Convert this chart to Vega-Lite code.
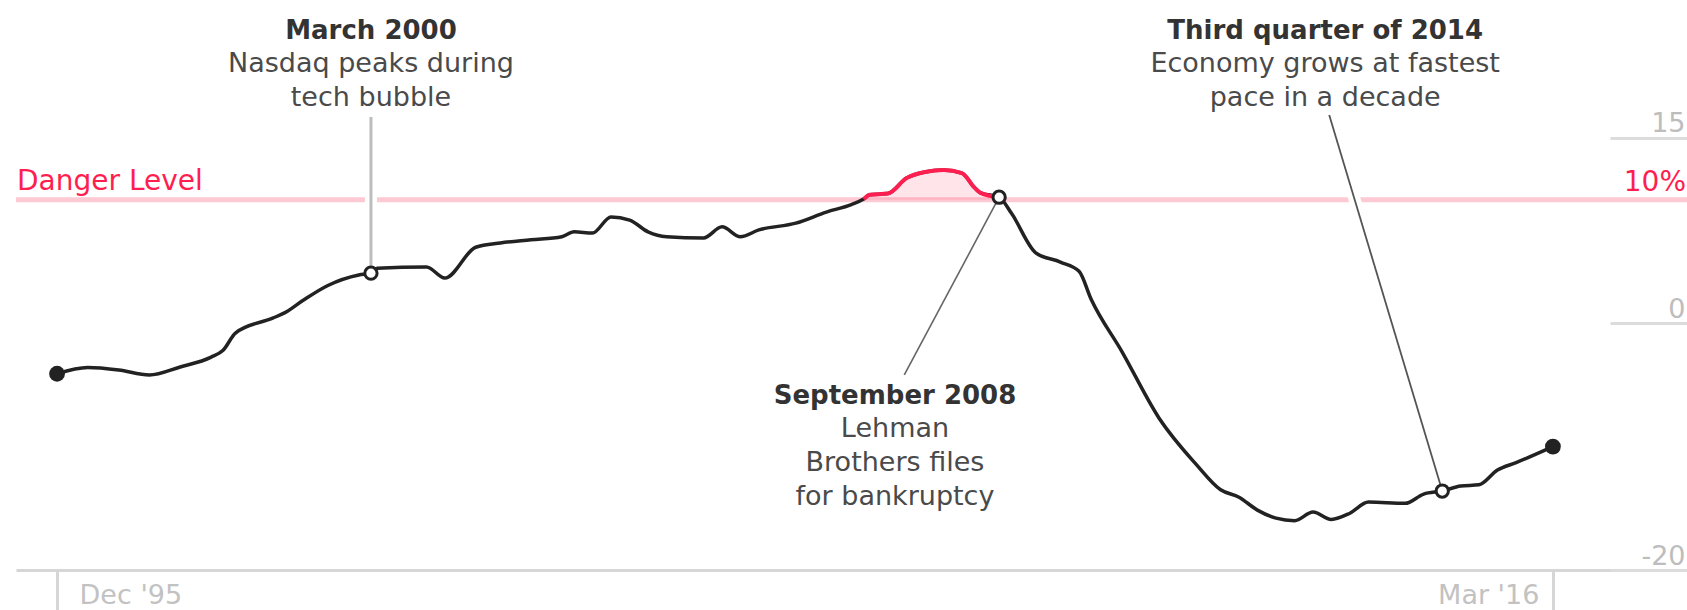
{
  "$schema": "https://vega.github.io/schema/vega-lite/v6.json",
  "width": 1671,
  "height": 570,
  "autosize": {"type": "none"},
  "padding": {"left": 16, "top": 0, "right": 0, "bottom": 40},
  "background": "white",
  "config": {"view": {"stroke": null}, "font": "DejaVu Sans"},
  "datasets": {
    "series": [
      {"date": "1995-12-01", "value": -4.1},
      {"date": "1996-05-01", "value": -3.6},
      {"date": "1996-10-01", "value": -3.8},
      {"date": "1997-03-01", "value": -4.2},
      {"date": "1997-08-01", "value": -3.55},
      {"date": "1998-01-01", "value": -2.75},
      {"date": "1998-03-01", "value": -2.2},
      {"date": "1998-05-01", "value": -0.8},
      {"date": "1998-11-01", "value": 0.4},
      {"date": "1999-01-01", "value": 0.85},
      {"date": "1999-04-01", "value": 1.85},
      {"date": "1999-08-01", "value": 3.05},
      {"date": "2000-01-01", "value": 3.9},
      {"date": "2000-03-01", "value": 4.05},
      {"date": "2000-04-01", "value": 4.45},
      {"date": "2000-12-01", "value": 4.55},
      {"date": "2001-03-01", "value": 3.65},
      {"date": "2001-08-01", "value": 6.15},
      {"date": "2001-12-01", "value": 6.5},
      {"date": "2002-05-01", "value": 6.75},
      {"date": "2002-10-01", "value": 7.0},
      {"date": "2002-12-01", "value": 7.4},
      {"date": "2003-03-01", "value": 7.3},
      {"date": "2003-06-01", "value": 8.6},
      {"date": "2003-09-01", "value": 8.35},
      {"date": "2003-12-01", "value": 7.4},
      {"date": "2004-03-01", "value": 7.0},
      {"date": "2004-09-01", "value": 6.9},
      {"date": "2004-12-01", "value": 7.8},
      {"date": "2005-03-01", "value": 7.0},
      {"date": "2005-06-01", "value": 7.55},
      {"date": "2005-12-01", "value": 8.1},
      {"date": "2006-05-01", "value": 9.0},
      {"date": "2006-09-01", "value": 9.6},
      {"date": "2006-11-01", "value": 10.05},
      {"date": "2006-12-01", "value": 10.4},
      {"date": "2007-03-01", "value": 10.5},
      {"date": "2007-06-01", "value": 11.75},
      {"date": "2007-09-01", "value": 12.25},
      {"date": "2007-12-01", "value": 12.4},
      {"date": "2008-03-01", "value": 12.15},
      {"date": "2008-05-01", "value": 11.0},
      {"date": "2008-06-01", "value": 10.55},
      {"date": "2008-09-01", "value": 10.2},
      {"date": "2008-11-01", "value": 8.9},
      {"date": "2009-03-01", "value": 5.7},
      {"date": "2009-07-01", "value": 4.95},
      {"date": "2009-10-01", "value": 4.2},
      {"date": "2009-12-01", "value": 1.9},
      {"date": "2010-05-01", "value": -2.3},
      {"date": "2010-11-01", "value": -7.7},
      {"date": "2011-05-01", "value": -11.4},
      {"date": "2011-09-01", "value": -13.5},
      {"date": "2011-12-01", "value": -14.1},
      {"date": "2012-03-01", "value": -15.15},
      {"date": "2012-06-01", "value": -15.8},
      {"date": "2012-09-01", "value": -16.0},
      {"date": "2012-12-01", "value": -15.3},
      {"date": "2013-03-01", "value": -15.9},
      {"date": "2013-06-01", "value": -15.4},
      {"date": "2013-09-01", "value": -14.5},
      {"date": "2014-03-01", "value": -14.6},
      {"date": "2014-06-01", "value": -13.85},
      {"date": "2014-09-01", "value": -13.6},
      {"date": "2014-12-01", "value": -13.2},
      {"date": "2015-03-01", "value": -13.1},
      {"date": "2015-06-01", "value": -11.9},
      {"date": "2015-09-01", "value": -11.3},
      {"date": "2016-03-01", "value": -10.0}
    ],
    "events": [
      {"date": "2000-03-01", "value": 4.05, "title": "March 2000", "note": "Nasdaq peaks during\ntech bubble"},
      {"date": "2008-09-01", "value": 10.2, "title": "September 2008", "note": "Lehman\nBrothers files\nfor bankruptcy"},
      {"date": "2014-09-01", "value": -13.6, "title": "Third quarter of 2014", "note": "Economy grows at fastest\npace in a decade"}
    ]
  },
  "data": {"name": "series"},
  "layer": [
    {
      "data": {"values": [{}]},
      "mark": {"type": "rule", "color": "#ffc9d3", "strokeWidth": 5},
      "encoding": {
        "y": {"datum": 10, "type": "quantitative", "scale": {"domain": [-20, 26.18], "nice": false, "zero": false}}
      }
    },
    {
      "transform": [{"filter": "datum.value >= 10"}],
      "mark": {"type": "area", "color": "#ff1e50", "opacity": 0.12, "interpolate": "monotone"},
      "encoding": {
        "x": {"field": "date", "type": "temporal", "title": null, "scale": {"type": "utc", "domain": [{"year": 1995, "month": 5, "date": 12, "utc": true}, {"year": 2017, "month": 12, "date": 24, "utc": true}]}},
        "y": {"field": "value", "type": "quantitative", "title": null, "scale": {"domain": [-20, 26.18], "nice": false, "zero": false}},
        "y2": {"datum": 10}
      }
    },
    {
      "data": {"name": "events"},
      "transform": [{"filter": "datum.title == 'March 2000'"}],
      "layer": [
        {
          "mark": {"type": "rule", "color": "white", "strokeWidth": 12},
          "encoding": {
            "x": {"field": "date", "type": "temporal", "title": null},
            "y": {"field": "value", "type": "quantitative", "title": null},
            "y2": {"datum": 16.7}
          }
        },
        {
          "mark": {"type": "rule", "color": "#bdbdbd", "strokeWidth": 3},
          "encoding": {
            "x": {"field": "date", "type": "temporal", "title": null},
            "y": {"field": "value", "type": "quantitative", "title": null},
            "y2": {"datum": 16.7}
          }
        }
      ]
    },
    {
      "data": {"name": "events"},
      "transform": [{"filter": "datum.title == 'Third quarter of 2014'"}],
      "layer": [
        {
          "mark": {"type": "rule", "color": "white", "strokeWidth": 12},
          "encoding": {
            "x": {"field": "date", "type": "temporal", "title": null},
            "y": {"field": "value", "type": "quantitative", "title": null},
            "x2": {"datum": {"year": 2013, "month": 2, "date": 19, "utc": true}},
            "y2": {"datum": 16.86}
          }
        },
        {
          "mark": {"type": "rule", "color": "#555555", "strokeWidth": 1.8},
          "encoding": {
            "x": {"field": "date", "type": "temporal", "title": null},
            "y": {"field": "value", "type": "quantitative", "title": null},
            "x2": {"datum": {"year": 2013, "month": 2, "date": 19, "utc": true}},
            "y2": {"datum": 16.86}
          }
        }
      ]
    },
    {
      "data": {"name": "events"},
      "transform": [{"filter": "datum.title == 'September 2008'"}],
      "mark": {"type": "rule", "color": "#666666", "strokeWidth": 1.6},
      "encoding": {
        "x": {"field": "date", "type": "temporal", "title": null},
        "y": {"field": "value", "type": "quantitative", "title": null},
        "x2": {"datum": {"year": 2007, "month": 5, "date": 21, "utc": true}},
        "y2": {"datum": -4.2}
      }
    },
    {
      "mark": {"type": "line", "color": "#222222", "strokeWidth": 3.5, "interpolate": "monotone"},
      "encoding": {
        "x": {
          "field": "date",
          "type": "temporal",
          "scale": {"type": "utc", "domain": [{"year": 1995, "month": 5, "date": 12, "utc": true}, {"year": 2017, "month": 12, "date": 24, "utc": true}]},
          "axis": {
            "title": null,
            "values": [{"year": 1995, "month": 12, "date": 1, "utc": true}, {"year": 2016, "month": 3, "date": 1, "utc": true}],
            "format": "%b '%y",
            "grid": false,
            "domainColor": "#d6d6d6",
            "domainWidth": 3,
            "tickColor": "#d6d6d6",
            "tickWidth": 3,
            "tickSize": 40,
            "labelFont": "DejaVu Sans",
            "labelFontSize": 27,
            "labelColor": "#c2c2c2",
            "labelBaseline": "alphabetic",
            "labelPadding": -7,
            "labelFlush": false,
            "labelOverlap": false,
            "labelAlign": {"condition": {"test": "datum.value < utc(2005,0,1)", "value": "left"}, "value": "right"},
            "labelOffset": {"condition": {"test": "datum.value < utc(2005,0,1)", "value": 22}, "value": -14}
          }
        },
        "y": {
          "field": "value",
          "type": "quantitative",
          "scale": {"domain": [-20, 26.18], "nice": false, "zero": false},
          "axis": {
            "title": null,
            "orient": "right",
            "offset": -77,
            "values": [15, 0, -20],
            "grid": false,
            "domain": false,
            "tickSize": 77,
            "tickWidth": 3,
            "tickColor": "#dcdcdc",
            "labelFont": "DejaVu Sans",
            "labelFontSize": 27,
            "labelColor": "#bdbdbd",
            "labelAlign": "right",
            "labelBaseline": "alphabetic",
            "labelPadding": -2,
            "labelOffset": -6,
            "labelFlush": false,
            "labelOverlap": false,
            "labelExpr": "'' + datum.value"
          }
        }
      }
    },
    {
      "transform": [{"filter": "datum.value >= 10"}],
      "mark": {"type": "line", "color": "#ff1e50", "strokeWidth": 4, "interpolate": "monotone"},
      "encoding": {
        "x": {"field": "date", "type": "temporal", "title": null},
        "y": {"field": "value", "type": "quantitative", "title": null}
      }
    },
    {
      "transform": [{"filter": "time(datum.date) == utc(1995,11,1) || time(datum.date) == utc(2016,2,1)"}],
      "mark": {"type": "point", "shape": "circle", "filled": true, "color": "#222222", "size": 250, "opacity": 1},
      "encoding": {
        "x": {"field": "date", "type": "temporal", "title": null},
        "y": {"field": "value", "type": "quantitative", "title": null}
      }
    },
    {
      "data": {"name": "events"},
      "mark": {"type": "point", "shape": "circle", "filled": false, "fill": "white", "stroke": "#222222", "strokeWidth": 3, "size": 150, "opacity": 1},
      "encoding": {
        "x": {"field": "date", "type": "temporal", "title": null},
        "y": {"field": "value", "type": "quantitative", "title": null}
      }
    },
    {
      "data": {"values": [{}]},
      "mark": {"type": "text", "text": "Danger Level", "align": "left", "baseline": "alphabetic", "dx": 1, "dy": -10, "font": "DejaVu Sans", "fontSize": 28, "color": "#ff1e50"},
      "encoding": {
        "x": {"datum": {"year": 1995, "month": 5, "date": 12, "utc": true}, "type": "temporal"},
        "y": {"datum": 10, "type": "quantitative"}
      }
    },
    {
      "data": {"values": [{}]},
      "mark": {"type": "text", "text": "10%", "align": "right", "baseline": "alphabetic", "dx": -1, "dy": -9, "font": "DejaVu Sans", "fontSize": 28, "color": "#ff1e50"},
      "encoding": {
        "x": {"datum": {"year": 2017, "month": 12, "date": 24, "utc": true}, "type": "temporal"},
        "y": {"datum": 10, "type": "quantitative"}
      }
    },
    {
      "data": {"name": "events"},
      "transform": [{"filter": "datum.title == 'March 2000'"}],
      "layer": [
        {
          "mark": {"type": "text", "align": "center", "baseline": "alphabetic", "font": "DejaVu Sans", "fontSize": 26, "fontWeight": "bold", "color": "#333333"},
          "encoding": {
            "x": {"field": "date", "type": "temporal", "title": null},
            "y": {"datum": 23.0, "type": "quantitative"},
            "text": {"field": "title"}
          }
        },
        {
          "mark": {"type": "text", "align": "center", "baseline": "alphabetic", "font": "DejaVu Sans", "fontSize": 27, "color": "#4a4a4a", "lineBreak": "\n", "lineHeight": 34},
          "encoding": {
            "x": {"field": "date", "type": "temporal", "title": null},
            "y": {"datum": 20.34, "type": "quantitative"},
            "text": {"field": "note"}
          }
        }
      ]
    },
    {
      "data": {"name": "events"},
      "transform": [{"filter": "datum.title == 'September 2008'"}],
      "layer": [
        {
          "mark": {"type": "text", "align": "center", "baseline": "alphabetic", "font": "DejaVu Sans", "fontSize": 26, "fontWeight": "bold", "color": "#333333"},
          "encoding": {
            "x": {"datum": {"year": 2007, "month": 4, "date": 5, "utc": true}, "type": "temporal"},
            "y": {"datum": -6.55, "type": "quantitative"},
            "text": {"field": "title"}
          }
        },
        {
          "mark": {"type": "text", "align": "center", "baseline": "alphabetic", "font": "DejaVu Sans", "fontSize": 27, "color": "#4a4a4a", "lineBreak": "\n", "lineHeight": 34},
          "encoding": {
            "x": {"datum": {"year": 2007, "month": 4, "date": 5, "utc": true}, "type": "temporal"},
            "y": {"datum": -9.23, "type": "quantitative"},
            "text": {"field": "note"}
          }
        }
      ]
    },
    {
      "data": {"name": "events"},
      "transform": [{"filter": "datum.title == 'Third quarter of 2014'"}],
      "layer": [
        {
          "mark": {"type": "text", "align": "center", "baseline": "alphabetic", "font": "DejaVu Sans", "fontSize": 26, "fontWeight": "bold", "color": "#333333"},
          "encoding": {
            "x": {"datum": {"year": 2013, "month": 1, "date": 30, "utc": true}, "type": "temporal"},
            "y": {"datum": 23.0, "type": "quantitative"},
            "text": {"field": "title"}
          }
        },
        {
          "mark": {"type": "text", "align": "center", "baseline": "alphabetic", "font": "DejaVu Sans", "fontSize": 27, "color": "#4a4a4a", "lineBreak": "\n", "lineHeight": 34},
          "encoding": {
            "x": {"datum": {"year": 2013, "month": 1, "date": 30, "utc": true}, "type": "temporal"},
            "y": {"datum": 20.34, "type": "quantitative"},
            "text": {"field": "note"}
          }
        }
      ]
    }
  ]
}
